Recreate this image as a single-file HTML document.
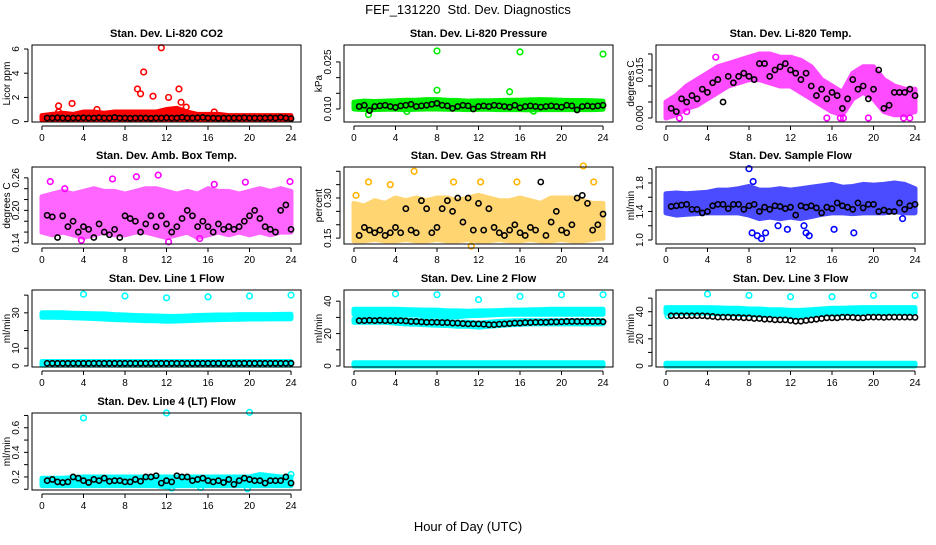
<!DOCTYPE html>
<html><head><meta charset="utf-8"><style>
html,body{margin:0;padding:0;background:#fff;}
svg text{font-family:"Liberation Sans",sans-serif;}
</style></head><body>
<svg id="chart" width="936" height="540" xmlns="http://www.w3.org/2000/svg">
<rect width="936" height="540" fill="#fff"/>
<text x="468" y="14" font-size="13" text-anchor="middle">FEF_131220&#160; Std. Dev. Diagnostics</text>
<text x="468" y="531" font-size="13" text-anchor="middle">Hour of Day (UTC)</text>
</svg>
<script>
const hours=[0,1,2,3,4,5,6,7,8,9,10,11,12,13,14,15,16,17,18,19,20,21,22,23,24];
const xTicks=[0,4,8,12,16,20,24];

const co2Hi=[0.5,0.6,0.7,0.6,0.8,0.8,0.7,0.8,0.8,0.8,0.8,0.8,1.0,1.1,0.8,0.6,0.6,0.6,0.5,0.5,0.5,0.5,0.5,0.5,0.5];
const co2Lo=[0.15,0.15,0.15,0.15,0.15,0.15,0.15,0.15,0.15,0.15,0.15,0.15,0.15,0.15,0.15,0.15,0.15,0.15,0.15,0.15,0.15,0.15,0.15,0.15,0.15];
const co2Out=[[1.6,1.3],[1.6,0.8],[2.9,1.5],[5.3,1.0],[9.2,2.7],[9.5,2.3],[9.8,4.1],[10.7,2.1],[11.5,6.1],[12.2,2.0],[13.2,2.7],[13.4,1.6],[13.9,1.2],[16.6,0.8]];
const co2Blk=[0.3,0.3,0.32,0.3,0.28,0.3,0.3,0.32,0.3,0.3,0.33,0.3,0.3,0.35,0.3,0.3,0.28,0.3,0.3,0.3,0.28,0.3,0.3,0.32,0.3,0.3,0.35,0.3,0.3,0.32,0.35,0.3,0.3,0.28,0.3,0.3,0.3,0.3,0.32,0.3,0.3,0.3,0.3,0.32,0.3,0.35,0.3,0.25];

const presHi=[0.0122,0.0125,0.0124,0.0125,0.0126,0.0128,0.0128,0.0130,0.0130,0.0128,0.0127,0.0125,0.0126,0.0126,0.0127,0.0128,0.0128,0.0129,0.0130,0.0129,0.0128,0.0127,0.0127,0.0126,0.0125];
const presLo=[0.0100,0.0098,0.0098,0.0099,0.0099,0.0098,0.0099,0.0100,0.0100,0.0099,0.0099,0.0098,0.0099,0.0099,0.0098,0.0098,0.0098,0.0097,0.0098,0.0098,0.0098,0.0098,0.0098,0.0098,0.0099];
const presOut=[[8,0.0285],[16,0.0282],[24,0.0275],[8,0.0160],[15,0.0155],[1.4,0.0082],[5.1,0.0092],[17.3,0.0093]];
const presBlk=[0.0108,0.0112,0.0095,0.0108,0.0110,0.0112,0.0108,0.0105,0.0110,0.0112,0.0115,0.0108,0.0110,0.0112,0.0115,0.0118,0.0112,0.0110,0.0102,0.0108,0.0112,0.0110,0.0100,0.0108,0.0110,0.0108,0.0112,0.0110,0.0108,0.0106,0.0112,0.0104,0.0108,0.0110,0.0108,0.0106,0.0108,0.0110,0.0108,0.0106,0.0112,0.0110,0.0097,0.0108,0.0110,0.0108,0.0110,0.0112];

const tempHi=[0.005,0.007,0.010,0.012,0.014,0.016,0.017,0.018,0.019,0.020,0.020,0.019,0.019,0.018,0.016,0.012,0.010,0.008,0.014,0.016,0.016,0.012,0.010,0.009,0.009];
const tempLo=[0.000,0.001,0.003,0.004,0.006,0.008,0.010,0.011,0.012,0.012,0.011,0.010,0.010,0.008,0.006,0.004,0.002,0.001,0.006,0.008,0.006,0.002,0.001,0.001,0.002];
const tempOut=[[1.3,0.0],[15.5,0.0],[16.8,0.0],[17.1,0.0],[19.5,0.0],[22.9,0.0],[23.5,0.0],[4.8,0.019],[2,0.002]];
const tempBlk=[0.003,0.002,0.006,0.005,0.007,0.006,0.009,0.008,0.011,0.012,0.005,0.013,0.011,0.013,0.014,0.013,0.012,0.017,0.017,0.013,0.015,0.016,0.017,0.015,0.014,0.012,0.014,0.010,0.007,0.009,0.006,0.008,0.007,0.003,0.006,0.012,0.009,0.010,0.006,0.009,0.015,0.003,0.004,0.008,0.008,0.008,0.009,0.007];

const ambHi=[0.225,0.23,0.235,0.23,0.235,0.24,0.235,0.235,0.23,0.235,0.24,0.24,0.235,0.23,0.235,0.23,0.24,0.235,0.235,0.23,0.235,0.24,0.235,0.24,0.235];
const ambLo=[0.16,0.155,0.16,0.155,0.15,0.155,0.16,0.155,0.155,0.16,0.16,0.155,0.15,0.155,0.16,0.15,0.155,0.16,0.155,0.16,0.155,0.16,0.155,0.16,0.16];
const ambOut=[[0.8,0.253],[3.8,0.145],[6.8,0.258],[9.1,0.262],[11.2,0.265],[12.2,0.142],[16.6,0.248],[19.6,0.252],[23.9,0.253],[2.2,0.240],[15.2,0.148]];
const ambBlk=[0.191,0.188,0.15,0.19,0.17,0.18,0.16,0.17,0.165,0.15,0.175,0.16,0.155,0.165,0.15,0.19,0.185,0.18,0.16,0.175,0.19,0.17,0.19,0.175,0.16,0.17,0.185,0.2,0.19,0.17,0.18,0.17,0.16,0.175,0.165,0.17,0.165,0.17,0.18,0.19,0.2,0.185,0.17,0.165,0.16,0.2,0.21,0.165];

const rhHi=[0.28,0.27,0.29,0.28,0.30,0.29,0.30,0.29,0.30,0.30,0.29,0.30,0.31,0.30,0.29,0.29,0.30,0.29,0.28,0.30,0.30,0.30,0.29,0.28,0.28];
const rhLo=[0.14,0.14,0.145,0.14,0.14,0.145,0.14,0.14,0.145,0.14,0.14,0.145,0.14,0.14,0.145,0.14,0.14,0.145,0.14,0.14,0.145,0.14,0.14,0.145,0.15];
const rhOut=[[5.8,0.40],[1.4,0.36],[3.5,0.35],[9.6,0.36],[12.2,0.36],[15.7,0.36],[22.1,0.42],[23.1,0.36],[0.2,0.31],[11.3,0.12]];
const rhBlk=[0.16,0.19,0.18,0.17,0.18,0.16,0.17,0.19,0.17,0.26,0.18,0.17,0.29,0.26,0.17,0.19,0.26,0.29,0.25,0.30,0.21,0.30,0.18,0.28,0.18,0.26,0.19,0.17,0.16,0.18,0.20,0.17,0.16,0.19,0.18,0.36,0.16,0.21,0.25,0.18,0.17,0.20,0.30,0.31,0.28,0.18,0.20,0.24];

const flowHi=[1.65,1.66,1.65,1.66,1.67,1.70,1.70,1.72,1.75,1.70,1.70,1.72,1.70,1.72,1.74,1.76,1.78,1.74,1.75,1.78,1.77,1.78,1.80,1.78,1.72];
const flowLo=[1.38,1.35,1.36,1.37,1.38,1.38,1.38,1.38,1.35,1.30,1.32,1.30,1.32,1.30,1.33,1.36,1.38,1.38,1.37,1.38,1.38,1.38,1.40,1.38,1.38];
const flowOut=[[8.3,1.10],[8.8,1.06],[9.2,1.02],[9.6,1.1],[13.5,1.10],[13.8,1.06],[11.7,1.15],[16.2,1.15],[18.1,1.10],[8.0,2.0],[22.8,1.3],[8.4,1.82],[13.3,1.2],[10.8,1.2]];
const flowBlk=[1.47,1.48,1.49,1.50,1.43,1.43,1.38,1.40,1.48,1.50,1.50,1.44,1.50,1.50,1.43,1.48,1.50,1.40,1.46,1.43,1.48,1.47,1.44,1.46,1.35,1.48,1.46,1.48,1.45,1.38,1.46,1.44,1.52,1.48,1.46,1.43,1.52,1.45,1.50,1.50,1.40,1.42,1.40,1.40,1.52,1.43,1.48,1.50];

const l1Hi=[30,30,30,29.8,29.6,29.5,29.4,29,28.8,28.5,28.3,28.2,28,28,28.2,28.5,28.6,28.8,28.8,29,29,29,29,29.1,29.2];
const l1Lo=[27.5,27.5,27.4,27.2,27,26.8,26.5,26.2,26,25.8,25.6,25.5,25.3,25.4,25.6,25.8,26,26.2,26.3,26.4,26.5,26.5,26.6,26.6,26.7];
const l1Hi2=[2.5,2.5,2.5,2.5,2.5,2.5,2.5,2.5,2.5,2.5,2.5,2.5,2.5,2.5,2.5,2.5,2.5,2.5,2.5,2.5,2.5,2.5,2.5,2.5,2.5];
const l1Lo2=[0.5,0.5,0.5,0.5,0.5,0.5,0.5,0.5,0.5,0.5,0.5,0.5,0.5,0.5,0.5,0.5,0.5,0.5,0.5,0.5,0.5,0.5,0.5,0.5,0.5];
const l1Out=[[4,40.5],[8,39.5],[12,38.5],[16,39],[20,39.5],[24,40],[0.2,1.5]];
const l1Blk=[1.5,1.5,1.5,1.5,1.5,1.5,1.5,1.5,1.5,1.5,1.5,1.5,1.5,1.5,1.5,1.5,1.5,1.5,1.5,1.5,1.5,1.5,1.5,1.5,1.5,1.5,1.5,1.5,1.5,1.5,1.5,1.5,1.5,1.5,1.5,1.5,1.5,1.5,1.5,1.5,1.5,1.5,1.5,1.5,1.5,1.5,1.5,1.5];

const l2Hi=[35,35,35,35,35,34.8,34.6,34.5,34.5,34,34,33.8,34,34,34.2,34.5,34.5,34.6,34.8,35,35,35,35,35,35];
const l2Lo=[32,32,32,32,32,31.8,31.5,31,31,30.5,30.5,31,31.2,31.5,31.8,32,32,32,32,32,32,32,32,32,32];
const l2Hi2=[29,29,29,29,29,28.5,28,28,27.8,27.5,27,27,26.5,27,27.5,27.8,28,28,28,28,28,28,28,28,28];
const l2Lo2=[27,27,27,27,26.5,26,25.8,25.5,25.2,25,24.5,24.5,24,24.5,25,25.5,25.8,26,26,26,26,26,26,26,26];
const l2Hi3=[2,2,2,2,2,2,2,2,2,2,2,2,2,2,2,2,2,2,2,2,2,2,2,2,2];
const l2Lo3=[0,0,0,0,0,0,0,0,0,0,0,0,0,0,0,0,0,0,0,0,0,0,0,0,0];
const l2Out=[[4,44.5],[8,44],[12,41],[16,43],[20,44],[24,44]];
const l2Blk=[28,28,28.2,28,28.2,28,28,28,28,27.8,27.5,27.5,27.2,27,27,27,26.8,26.8,26.5,26.5,26.2,26,26,26,25.8,25.5,25.5,25.8,26,26.2,26.5,26.5,26.8,26.8,27,27,27,27.2,27.2,27.3,27.5,27.5,27.5,27.5,27.5,27.5,27.5,27.3];

const l3Hi=[43,43,43,43,43,42.8,42.5,42.5,42,42,41.5,41.5,41,41,41.5,42,42.5,42.5,42.8,43,43,43,43,43,43];
const l3Lo=[39,39,39,39,39,38.5,38.5,38,38,37.5,37.5,37,36.5,37,37.5,38,38.5,38.5,38.8,39,39,39,39,39,39];
const l3Hi2=[2,2,2,2,2,2,2,2,2,2,2,2,2,2,2,2,2,2,2,2,2,2,2,2,2];
const l3Lo2=[0,0,0,0,0,0,0,0,0,0,0,0,0,0,0,0,0,0,0,0,0,0,0,0,0];
const l3Out=[[4,53],[8,52],[12,51],[16,51],[20,52],[24,52],[0.2,37]];
const l3Blk=[37,37,37,37,37,37,37,36.8,36.5,36,36,36,35.8,35.8,35.5,35.5,35,35,34.5,34.5,34,34,34,33.5,33,33,33.5,34,34.5,35,35.5,35.5,35.5,36,36,35.8,35.5,35.5,36,36,36,35.8,36,36,36,36,36,35.8];

const l4Hi=[0.19,0.19,0.19,0.195,0.2,0.2,0.2,0.2,0.2,0.2,0.2,0.2,0.2,0.2,0.2,0.2,0.2,0.2,0.2,0.2,0.2,0.22,0.21,0.2,0.2];
const l4Lo=[0.13,0.13,0.13,0.13,0.13,0.13,0.13,0.13,0.13,0.13,0.13,0.13,0.12,0.13,0.13,0.13,0.13,0.13,0.13,0.13,0.13,0.13,0.13,0.13,0.13];
const l4Out=[[4,0.68],[12,0.72],[20,0.725],[12.5,0.11],[19.8,0.105],[15.3,0.115],[24,0.22]];
const l4Blk=[0.17,0.18,0.16,0.155,0.16,0.2,0.19,0.17,0.155,0.18,0.17,0.19,0.165,0.17,0.17,0.16,0.16,0.18,0.165,0.2,0.2,0.21,0.15,0.17,0.16,0.21,0.2,0.2,0.17,0.18,0.19,0.17,0.16,0.17,0.155,0.18,0.14,0.17,0.19,0.18,0.17,0.17,0.15,0.17,0.17,0.17,0.2,0.15];

const colL=[32,344,656], rowT=[45,167,290,413], W=269, H=77;
const panels=[
 {name:'co2',title:'Stan. Dev. Li-820 CO2',ylab:'Licor ppm',c:0,r:0,y0:-0.03,y1:6.33,ticks:[0,2,4,6],labels:['0','2','4','6'],labVals:[0,2,4,6],color:'#ff0000',op:1,bands:[[co2Lo,co2Hi]],out:co2Out,blk:co2Blk},
 {name:'pressure',title:'Stan. Dev. Li-820 Pressure',ylab:'kPa',c:1,r:0,y0:0.00585,y1:0.0304,ticks:[0.010,0.015,0.020,0.025],labels:['0.010','0.025'],labVals:[0.010,0.025],color:'#00ee00',op:1,bands:[[presLo,presHi]],out:presOut,blk:presBlk},
 {name:'li820-temp',title:'Stan. Dev. Li-820 Temp.',ylab:'degrees C',c:2,r:0,y0:-0.00125,y1:0.0228,ticks:[0,0.005,0.010,0.015,0.020],labels:['0.000','0.015'],labVals:[0,0.015],color:'#ff00ff',op:0.7,bands:[[tempLo,tempHi]],out:tempOut,blk:tempBlk},
 {name:'amb-box-temp',title:'Stan. Dev. Amb. Box Temp.',ylab:'degrees C',c:0,r:1,y0:0.138,y1:0.280,ticks:[0.14,0.16,0.18,0.20,0.22,0.24,0.26],labels:['0.14','0.20','0.26'],labVals:[0.14,0.20,0.26],color:'#ff00ff',op:0.6,bands:[[ambLo,ambHi]],out:ambOut,blk:ambBlk},
 {name:'gas-stream-rh',title:'Stan. Dev. Gas Stream RH',ylab:'percent',c:1,r:1,y0:0.128,y1:0.416,ticks:[0.15,0.20,0.25,0.30,0.35,0.40],labels:['0.15','0.30'],labVals:[0.15,0.30],color:'#ffb400',op:0.55,bands:[[rhLo,rhHi]],out:rhOut,blk:rhBlk},
 {name:'sample-flow',title:'Stan. Dev. Sample Flow',ylab:'ml/min',c:2,r:1,y0:0.944,y1:2.024,ticks:[1.0,1.2,1.4,1.6,1.8,2.0],labels:['1.0','1.4','1.8'],labVals:[1.0,1.4,1.8],color:'#0000ff',op:0.7,bands:[[flowLo,flowHi]],out:flowOut,blk:flowBlk},
 {name:'line1-flow',title:'Stan. Dev. Line 1 Flow',ylab:'ml/min',c:0,r:2,y0:-0.6,y1:42.9,ticks:[0,10,20,30,40],labels:['0','10','30'],labVals:[0,10,30],color:'#00ffff',op:1,bands:[[l1Lo,l1Hi],[l1Lo2,l1Hi2]],out:l1Out,blk:l1Blk},
 {name:'line2-flow',title:'Stan. Dev. Line 2 Flow',ylab:'ml/min',c:1,r:2,y0:-0.6,y1:46.9,ticks:[0,10,20,30,40],labels:['0','20','40'],labVals:[0,20,40],color:'#00ffff',op:1,bands:[[l2Lo,l2Hi],[l2Lo2,l2Hi2],[l2Lo3,l2Hi3]],out:l2Out,blk:l2Blk},
 {name:'line3-flow',title:'Stan. Dev. Line 3 Flow',ylab:'ml/min',c:2,r:2,y0:-0.75,y1:56,ticks:[0,10,20,30,40,50],labels:['0','20','40'],labVals:[0,20,40],color:'#00ffff',op:1,bands:[[l3Lo,l3Hi],[l3Lo2,l3Hi2]],out:l3Out,blk:l3Blk},
 {name:'line4-flow',title:'Stan. Dev. Line 4 (LT) Flow',ylab:'ml/min',c:0,r:3,y0:0.094,y1:0.72,ticks:[0.1,0.2,0.3,0.4,0.5,0.6,0.7],labels:['0.2','0.4','0.6'],labVals:[0.2,0.4,0.6],color:'#00ffff',op:1,bands:[[l4Lo,l4Hi]],out:l4Out,blk:l4Blk}
];
const NS='http://www.w3.org/2000/svg';
const svg=document.getElementById('chart');
function mk(tag,attrs,parent){const e=document.createElementNS(NS,tag);for(const k in attrs)e.setAttribute(k,attrs[k]);(parent||svg).appendChild(e);return e;}
panels.forEach(p=>{
 const L=colL[p.c],T=rowT[p.r];
 const g=mk('g',{});
 
 
 const sx=v=>L+(v+0.96)/25.92*W;
 const sy=v=>T+H-(v-p.y0)/(p.y1-p.y0)*H;
 const t=mk('text',{x:L+W/2,y:T-8,'font-size':11,'font-weight':'bold','text-anchor':'middle'},g);
 t.textContent=p.title;
 
 
 p.bands.forEach(b=>{
  const lo=b[0],hi=b[1];
  let d='';
  hours.forEach((h,i)=>{d+=(i?'L':'M')+sx(h).toFixed(1)+' '+sy(hi[i]).toFixed(1)});
  for(let i=hours.length-1;i>=0;i--)d+='L'+sx(hours[i]).toFixed(1)+' '+sy(lo[i]).toFixed(1);
  d+='Z';
  const pa=mk('path',{d:d,fill:p.color,stroke:p.color,'stroke-width':5,'stroke-linejoin':'round',opacity:p.op},g);
  
  
 });
 p.out.forEach(o=>{
  const c=mk('circle',{cx:sx(o[0]),cy:sy(o[1]),r:2.8,fill:'none',stroke:p.color,'stroke-width':1.6},g);
  
  
 });
 p.blk.forEach((v,i)=>{
  const c=mk('circle',{cx:sx((i+1)*0.5),cy:sy(v),r:2.6,fill:'none',stroke:'#000','stroke-width':1.6},g);
  
  
 });
 const box=mk('rect',{x:L,y:T,width:W,height:H,fill:'none',stroke:'#000','stroke-width':1},g);
 
 
 mk('line',{x1:sx(0),x2:sx(24),y1:T+H+4,y2:T+H+4,stroke:'#000'},g);
 xTicks.forEach(v=>{
  mk('line',{x1:sx(v),x2:sx(v),y1:T+H+4,y2:T+H+8,stroke:'#000'},g);
  const tx=mk('text',{x:sx(v),y:T+H+19,'font-size':10,'text-anchor':'middle'},g);
  tx.textContent=v;
  
  
 });
 const ya=L-4;
 mk('line',{x1:ya,x2:ya,y1:sy(p.ticks[0]),y2:sy(p.ticks[p.ticks.length-1]),stroke:'#000'},g);
 p.ticks.forEach(v=>{mk('line',{x1:ya-4,x2:ya,y1:sy(v),y2:sy(v),stroke:'#000'},g);});
 p.labVals.forEach((v,i)=>{
  const x=L-13,y=sy(v);
  const tx=mk('text',{x:x,y:y,'font-size':10,'text-anchor':'middle',transform:'rotate(-90 '+x+' '+y+')'},g);
  tx.textContent=p.labels[i];
  
  
 });
 const yx=L-22,yy=T+H/2;
 const yl=mk('text',{x:yx,y:yy,'font-size':10,'text-anchor':'middle',transform:'rotate(-90 '+yx+' '+yy+')'},g);
 yl.textContent=p.ylab;
 
 
});
</script>
</body></html>
